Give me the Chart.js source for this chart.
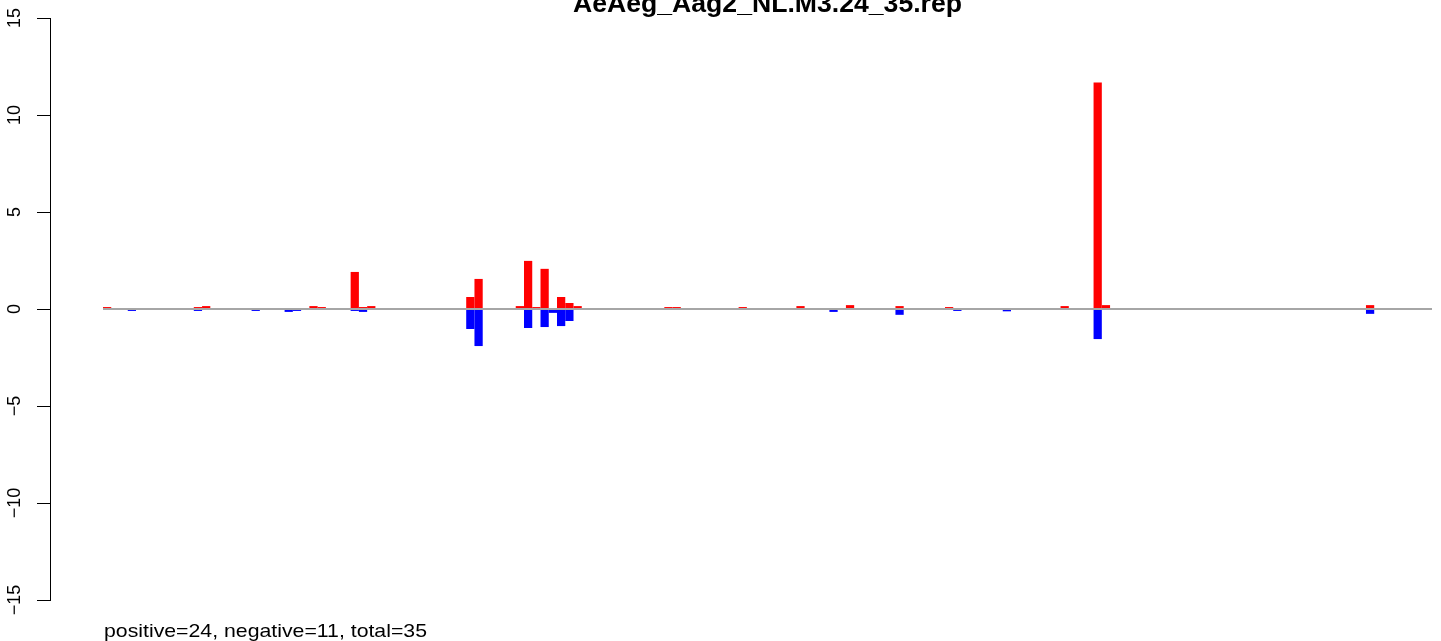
<!DOCTYPE html>
<html>
<head>
<meta charset="utf-8">
<script src="https://cdn.jsdelivr.net/npm/chart.js@4/dist/chart.umd.min.js"></script>
<style>
  html, body { margin:0; padding:0; background:#fff; }
  #wrap { width:1441px; height:641px; position:relative; }
</style>
</head>
<body>
<div id="wrap"><canvas id="chart"></canvas></div>
<script>
// --- Date ---
const titlu = 'AeAeg_Aag2_NL.M3.24_35.rep';
const subsol = 'positive=24, negative=11, total=35';
const yTicks = [15, 10, 5, 0, -5, -10, -15];

// 161 pozitii (bin-uri) pe axa x
const pozitii = Array.from({length:161}, (_, i) => String(i + 1));

// valori pozitive (rosu), cate 20 pe rand
const pozitive = [
  0.1,0,0,0,0,0,0,0,0,0, 0,0.1,0.15,0,0,0,0,0,0,0,
  0,0,0,0.05,0,0.15,0.1,0,0,0, 1.91,0.1,0.15,0,0,0.05,0,0,0,0,
  0,0,0,0,0.62,1.55,0,0,0,0, 0.15,2.48,0.1,2.07,0,0.62,0.31,0.15,0.05,0,
  0,0.05,0,0,0,0,0,0.05,0.1,0.1, 0,0,0,0,0,0,0,0.1,0,0,
  0.05,0,0,0,0.15,0.05,0,0,0.05,0, 0.2,0.05,0,0,0,0,0.15,0,0.05,0.05,
  0,0,0.1,0.05,0.05,0,0.05,0,0,0, 0,0,0,0,0,0,0.15,0,0.05,0,
  11.67,0.2,0,0,0,0,0,0,0,0, 0,0,0,0,0,0,0,0,0,0,
  0,0,0,0,0,0,0,0,0,0, 0,0,0,0.2,0,0,0,0,0,0,
  0
];

// valori negative (albastru)
const negative = [
  0,-0.05,0,-0.1,0,0,0,0,0,0, 0,-0.1,0,0,0,0,0,0,-0.1,0,
  0,0,-0.15,-0.1,-0.05,0,-0.05,0,0,0, -0.1,-0.15,0,0,0,-0.05,0,0,0,0,
  -0.05,0,0,0,-1.03,-1.91,0,-0.05,0,0, 0,-0.98,0,-0.93,-0.2,-0.88,-0.62,-0.05,0,0,
  -0.05,0,0,0,0,0,0,0,0,0, 0,0,0,0,0,0,0,0,0,-0.05,
  -0.05,0,0,0,0,0,-0.05,0,-0.15,-0.05, 0,-0.05,0,-0.05,0,0,-0.3,-0.05,0,0,
  0,0,-0.05,-0.1,-0.05,0,0,0,0,-0.12, 0,0,0,0,0,0,0,-0.05,0,-0.05,
  -1.55,0,0,-0.05,0,0,0,0,0,0, 0,0,0,0,0,0,0,0,0,0,
  0,0,0,0,0,0,0,0,0,0, 0,0,0,-0.25,0,0,0,0,0,0,
  0
];

// text intins pe orizontala pana la latimea dorita
function textLatime(ctx, txt, x, y, latime){
  const w = ctx.measureText(txt).width;
  ctx.save();
  ctx.translate(x, y);
  ctx.scale(latime / w, 1);
  ctx.fillText(txt, 0, 0);
  ctx.restore();
}

// --- Axa y, titlu si text jos (desenate manual, ca in R) ---
const decorPlugin = {
  id:'decor',
  afterDraw(chart){
    const ctx = chart.ctx;
    const y = chart.scales.y;
    ctx.save();
    ctx.strokeStyle = '#000';
    ctx.lineWidth = 1;
    ctx.beginPath();
    ctx.moveTo(50.5, y.getPixelForValue(15));
    ctx.lineTo(50.5, y.getPixelForValue(-15));
    yTicks.forEach(v=>{
      const py = Math.round(y.getPixelForValue(v)) + 0.5;
      ctx.moveTo(37, py);
      ctx.lineTo(51, py);
    });
    ctx.stroke();

    ctx.fillStyle = '#000';
    ctx.font = '18px "Liberation Sans", Arial, sans-serif';
    ctx.textAlign = 'center';
    ctx.textBaseline = 'alphabetic';
    yTicks.forEach(v=>{
      const py = y.getPixelForValue(v);
      ctx.save();
      ctx.translate(20, py);
      ctx.rotate(-Math.PI/2);
      ctx.fillText(v < 0 ? '\u2212' + Math.abs(v) : String(v), 0, 0);
      ctx.restore();
    });

    ctx.textAlign = 'left';
    ctx.font = 'bold 25px "Liberation Sans", Arial, sans-serif';
    textLatime(ctx, titlu, 573, 12, 389);

    ctx.font = '19px "Liberation Sans", Arial, sans-serif';
    textLatime(ctx, subsol, 104, 637, 323);
    ctx.restore();
  }
};

const faraZero = arr => arr.map(v => v === 0 ? null : v);

document.addEventListener('DOMContentLoaded',()=>{
  const ctx = document.getElementById('chart').getContext('2d');
  new Chart(ctx, {
    type:'bar',
    data:{
      labels: pozitii,
      datasets:[
        {data: faraZero(pozitive), backgroundColor:'#ff0000', borderWidth:0, inflateAmount:0, barPercentage:1, categoryPercentage:1},
        {data: faraZero(negative), backgroundColor:'#0000ff', borderWidth:0, inflateAmount:0, barPercentage:1, categoryPercentage:1}
      ]
    },
    options:{
      responsive:true,
      maintainAspectRatio:false,
      animation:false,
      layout:{padding:{left:103, right:9, top:18, bottom:41}},
      plugins:{legend:{display:false}, tooltip:{enabled:false}, title:{display:false}},
      scales:{
        x:{display:false, stacked:true},
        y:{
          stacked:true,
          min:-15, max:15,
          ticks:{display:false, stepSize:5},
          border:{display:false},
          grid:{
            drawTicks:false,
            lineWidth:2,
            color: c => (c.tick && c.tick.value === 0) ? '#a6a6a6' : 'rgba(0,0,0,0)'
          },
          afterFit: s => { s.width = 0; }
        }
      }
    },
    plugins:[decorPlugin]
  });
});
</script>
</body>
</html>
